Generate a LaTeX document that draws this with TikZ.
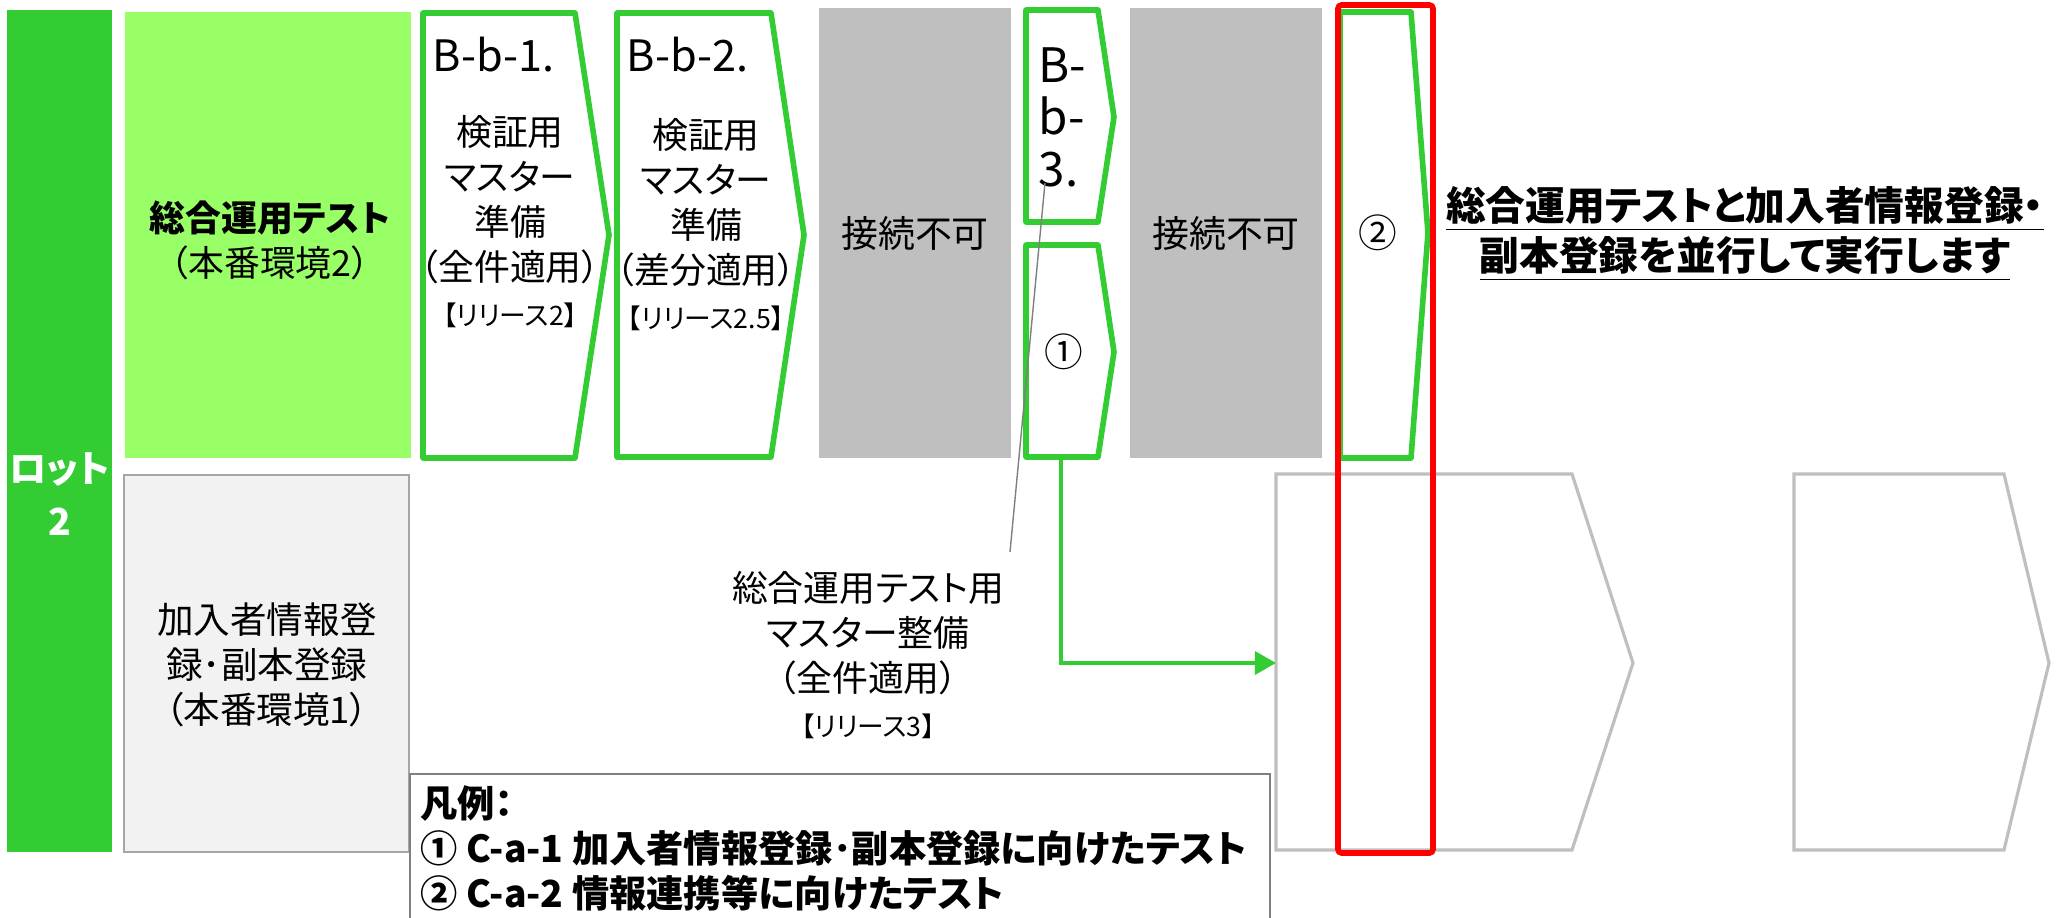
\documentclass[tikz,border=0pt]{standalone}
\usepackage{fontspec}
\setmainfont{Noto Sans CJK JP}[RawFeature=+palt]
\usetikzlibrary{arrows.meta}

\definecolor{lotgreen}{HTML}{33CC33}
\definecolor{lightgreen}{HTML}{99FF66}
\definecolor{nogray}{HTML}{BFBFBF}
\definecolor{envgray}{HTML}{F2F2F2}
\definecolor{edgegray}{HTML}{A6A6A6}
\definecolor{legendgray}{HTML}{7F7F7F}

\newcommand{\reltxt}{\fontsize{7.6}{10}\selectfont}

\tikzset{
  chevbox/.style={draw=lotgreen, line width=1.6pt, line join=round},
  nextbox/.style={draw=nogray, line width=0.9pt},
  bodytxt/.style={align=center, inner sep=0pt, font=\fontsize{10.2}{12.8}\selectfont},
  idtxt/.style={inner sep=0pt, font=\fontsize{12.3}{14.8}\selectfont},
  headtxt/.style={align=center, inner sep=0pt, font=\fontsize{11.3}{14.2}\selectfont\bfseries},
  legtxt/.style={align=left, inner sep=0pt, font=\fontsize{10.6}{12.8}\selectfont\bfseries}
}

\begin{document}
\begin{tikzpicture}[x=0.01cm, y=-0.01cm]
    \useasboundingbox (0,0) rectangle (2059,918);

    % Lot column
    \fill[lotgreen] (7,10) rectangle (112,852);
    \node[white, align=center, font=\fontsize{10.6}{15}\selectfont\bfseries] (lot) at (59.5,494) {ロット\\2};

    % Row 1: integrated operation test
    \fill[lightgreen] (125,12) rectangle (411,458);
    \node[bodytxt] (sogo) at (270,240) {\textbf{総合運用テスト}\\（本番環境2）};

    \draw[chevbox] (423,13) -- (575,13) -- (609,235) -- (575,458) -- (423,458) -- cycle;
    \node[idtxt, anchor=west] (bb1) at (432,55) {B-b-1.};
    \node[bodytxt] (bb1txt) at (510,222) {検証用\\マスター\\準備\\（全件適用）\\{\reltxt 【リリース2】}};

    \draw[chevbox] (617,13) -- (771,13) -- (804,235) -- (771,457) -- (617,457) -- cycle;
    \node[idtxt, anchor=west] (bb2) at (626,55) {B-b-2.};
    \node[bodytxt] (bb2txt) at (706,225) {検証用\\マスター\\準備\\（差分適用）\\{\reltxt 【リリース2.5】}};

    \fill[nogray] (819,8) rectangle (1011,458);
    \node[bodytxt, font=\fontsize{10.5}{12.8}\selectfont] (ng1) at (915,233) {接続不可};

    \draw[chevbox] (1026,10) -- (1098,10) -- (1114,117) -- (1098,222) -- (1026,222) -- cycle;
    \node[idtxt, align=left, anchor=west, font=\fontsize{13.5}{14.8}\selectfont] (bb3) at (1038,117) {B-\\b-\\3.};

    \draw[chevbox] (1026,245) -- (1098,245) -- (1114,352) -- (1098,457) -- (1026,457) -- cycle;
    \node[bodytxt, font=\fontsize{11}{12.8}\selectfont] (tan1) at (1064,352) {①};

    \fill[nogray] (1130,8) rectangle (1322,458);
    \node[bodytxt, font=\fontsize{10.5}{12.8}\selectfont] (ng2) at (1226,233) {接続不可};

    \draw[chevbox] (1340,12) -- (1411,12) -- (1428,233) -- (1411,458) -- (1340,458) -- cycle;
    \node[bodytxt, font=\fontsize{11}{12.8}\selectfont] (tan2) at (1378,233) {②};

    \node[headtxt] (heading) at (1745,234) {\underline{総合運用テストと加入者情報登録・}\\\underline{副本登録を並行して実行します}};

    % Row 2: subscriber registration
    \draw[edgegray, fill=envgray, line width=0.8pt] (124,475) rectangle (409,852);
    \node[bodytxt, font=\fontsize{10.4}{12.8}\selectfont] (kanyu) at (267,665) {加入者情報登\\録･副本登録\\（本番環境1）};

    \node[bodytxt] (master) at (868,655) {総合運用テスト用\\マスター整備\\（全件適用）\\{\reltxt 【リリース3】}};

    \draw[nextbox] (1276,474) -- (1572,474) -- (1633,663) -- (1572,850) -- (1276,850) -- cycle;
    \draw[nextbox] (1794,474) -- (2004,474) -- (2049,663) -- (2004,850) -- (1794,850) -- cycle;

    % Connectors
    \coordinate (tanOut) at (1061,458);
    \coordinate (nextIn) at (1276,663);
    \draw[lotgreen, line width=1.2pt, -{Triangle[length=6pt,width=6.5pt]}] (tanOut) |- (nextIn);

    \coordinate (bb3Foot) at (1045,183);
    \coordinate (masterTop) at (1010,552);
    \draw[legendgray, line width=0.4pt] (bb3Foot) -- (masterTop);

    % Highlight
    \draw[red, line width=1.6pt, rounded corners=1pt] (1338,5) rectangle (1433,853);

    % Legend
    \draw[legendgray, line width=0.8pt, fill=white] (410,774) rectangle (1270,940);
    \node[legtxt, anchor=west] (legend) at (420,848) {凡例：\\① C-a-1 加入者情報登録･副本登録に向けたテスト\\② C-a-2 情報連携等に向けたテスト};

\end{tikzpicture}
\end{document}
